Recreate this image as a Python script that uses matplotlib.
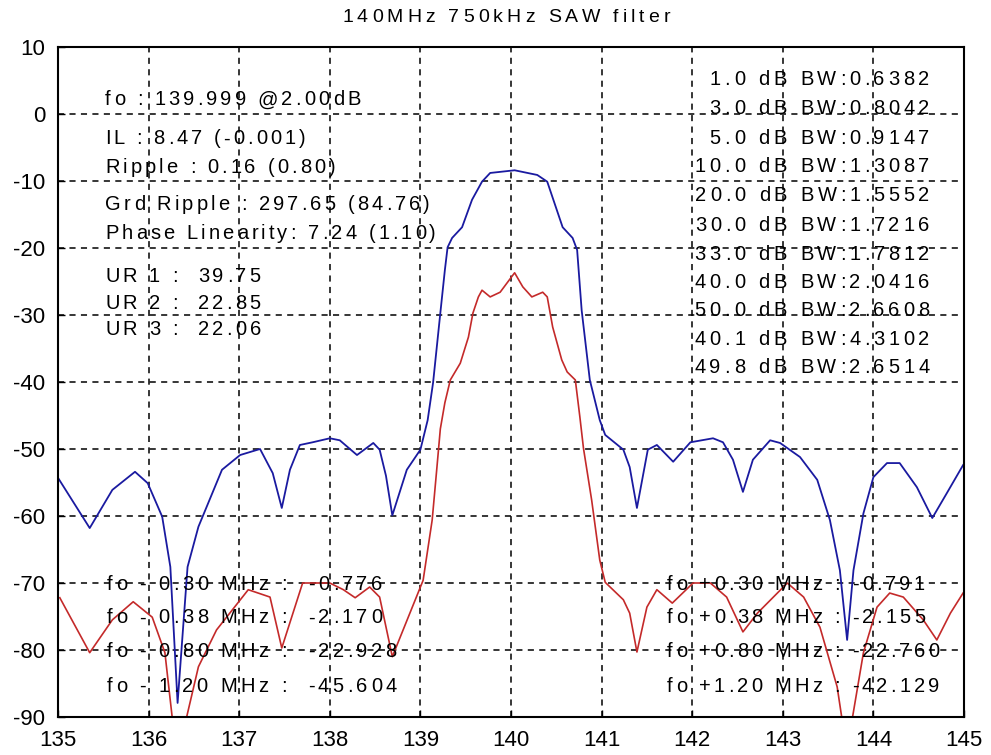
import matplotlib
matplotlib.use("Agg")
import matplotlib.pyplot as plt
from matplotlib import transforms
from matplotlib.font_manager import FontProperties

plt.rcParams['font.family'] = ['Liberation Sans', 'DejaVu Sans']
plt.rcParams['axes.unicode_minus'] = False

title = "140MHz 750kHz SAW filter"

blue_x = [135.0, 135.35, 135.6, 135.85, 135.99, 136.15, 136.24, 136.32, 136.43, 136.55, 136.81,
          137.01, 137.23, 137.37, 137.47, 137.56, 137.67, 137.81, 138.0, 138.11, 138.30, 138.48,
          138.55, 138.62, 138.69, 138.85, 139.0, 139.08, 139.14, 139.22, 139.27, 139.30, 139.35,
          139.46, 139.57, 139.68, 139.77, 140.04, 140.29, 140.40, 140.46, 140.57, 140.68, 140.73,
          140.78, 140.87, 140.98, 141.04, 141.24, 141.31, 141.39, 141.51, 141.61, 141.79, 141.98,
          142.23, 142.34, 142.45, 142.56, 142.67, 142.86, 142.97, 143.19, 143.38, 143.52, 143.63,
          143.71, 143.78, 143.89, 144.0, 144.15, 144.29, 144.48, 144.65, 144.81, 144.99]
blue_y = [-54.3, -61.8, -56.1, -53.4, -55.1, -60.1, -67.6, -87.9, -67.6, -61.6, -53.1,
          -50.9, -50.0, -53.6, -58.8, -53.1, -49.4, -49.0, -48.4, -48.7, -50.9, -49.1,
          -50.1, -54.0, -59.9, -53.1, -50.1, -45.7, -40.1, -29.7, -23.3, -19.9, -18.5,
          -16.9, -12.8, -10.1, -8.8, -8.4, -9.1, -10.1, -12.5, -16.9, -18.5, -20.3,
          -29.3, -39.7, -45.7, -47.9, -50.1, -52.7, -58.8, -50.1, -49.4, -51.9, -49.0,
          -48.4, -49.0, -51.6, -56.4, -51.6, -48.7, -49.1, -51.2, -54.6, -60.6, -68.1,
          -78.5, -68.1, -59.6, -54.2, -52.1, -52.1, -55.7, -60.3, -56.6, -52.4]

red_x = [135.02, 135.35, 135.6, 135.83, 136.04, 136.18, 136.26, 136.34, 136.42, 136.55, 136.75,
         137.1, 137.34, 137.47, 137.70, 138.0, 138.15, 138.28, 138.44, 138.55, 138.69, 139.03,
         139.13, 139.18, 139.22, 139.27, 139.33, 139.44, 139.53, 139.58, 139.64, 139.68, 139.77,
         139.88, 140.04, 140.13, 140.23, 140.35, 140.40, 140.46, 140.56, 140.62, 140.71, 140.76,
         140.80, 140.89, 140.98, 141.04, 141.24, 141.31, 141.39, 141.50, 141.61, 141.78, 142.01,
         142.20, 142.38, 142.56, 142.72, 143.05, 143.23, 143.41, 143.60, 143.65, 143.71, 143.77,
         143.89, 144.04, 144.18, 144.33, 144.55, 144.70, 144.85, 144.99]
red_y = [-72.2, -80.4, -75.5, -72.8, -75.1, -80.4, -90.0, -96.0, -90.0, -82.5, -77.0,
         -71.0, -72.1, -79.7, -70.0, -70.0, -71.0, -72.2, -70.6, -72.1, -81.0, -69.6,
         -60.6, -53.1, -47.0, -43.1, -39.7, -37.2, -33.3, -29.7, -27.3, -26.3, -27.3,
         -26.6, -23.7, -25.8, -27.3, -26.6, -27.3, -31.8, -36.7, -38.5, -39.7, -45.2,
         -49.9, -57.6, -66.6, -69.9, -72.5, -74.5, -80.3, -73.6, -71.0, -73.0, -70.0,
         -70.0, -72.1, -77.3, -74.5, -70.0, -72.1, -76.6, -85.5, -90.0, -96.0, -90.0,
         -80.4, -73.6, -71.5, -72.1, -75.5, -78.5, -74.5, -71.5]

x_ticks = [135, 136, 137, 138, 139, 140, 141, 142, 143, 144, 145]
y_ticks = [10, 0, -10, -20, -30, -40, -50, -60, -70, -80, -90]

left_info = ["fo : 139.999 @2.00dB", "IL : 8.47 (-0.001)", "Ripple : 0.16 (0.80)",
             "Grd Ripple : 297.65 (84.76)", "Phase Linearity: 7.24 (1.10)",
             "UR 1 :  39.75", "UR 2 :  22.85", "UR 3 :  22.06"]
left_info_y = [2.1, -3.7, -8.0, -13.5, -17.8, -24.2, -28.3, -32.1]

bw_info = ["1.0 dB BW:0.6382", "3.0 dB BW:0.8042", "5.0 dB BW:0.9147", "10.0 dB BW:1.3087",
           "20.0 dB BW:1.5552", "30.0 dB BW:1.7216", "33.0 dB BW:1.7812", "40.0 dB BW:2.0416",
           "50.0 dB BW:2.6608", "40.1 dB BW:4.3102", "49.8 dB BW:2.6514"]
bw_info_y = [5.1, 0.8, -3.7, -7.9, -12.1, -16.6, -20.9, -25.1, -29.4, -33.7, -37.8]

lo_info = ["fo - 0.30 MHz :  -0.776", "fo - 0.38 MHz :  -2.170",
           "fo - 0.80 MHz :  -22.928", "fo - 1.20 MHz :  -45.604"]
hi_info = ["fo +0.30 MHz : -0.791", "fo +0.38 MHz : -2.155",
           "fo +0.80 MHz : -22.760", "fo +1.20 MHz : -42.129"]
corner_info_y = [-70.2, -75.2, -80.2, -85.4]

fig = plt.figure(figsize=(9.91, 7.55), dpi=100)
ax = fig.add_axes([58/991, 1-717/755, (964-58)/991, (717-47)/755])

ax.plot(blue_x, blue_y, color='#1a1aa0', lw=1.3)
ax.plot(red_x, red_y, color='#c42a2a', lw=1.2)

ax.set_xlim(135, 145)
ax.set_ylim(-90, 10)
ax.set_xticks(x_ticks)
ax.set_yticks(y_ticks)
ax.tick_params(direction='in', length=5, width=1, labelsize=16)
ax.tick_params(axis='x', pad=9)
ax.tick_params(axis='y', pad=9)
ax.grid(True, color='black', linestyle=(0, (4, 3.5)), lw=1.1)
for s in ax.spines.values():
    s.set_linewidth(1.5)

renderer = fig.canvas.get_renderer()


def text_w(s, fp):
    w, h, d = renderer.get_text_width_height_descent(s + "x", fp, ismath=False)
    wx, _, _ = renderer.get_text_width_height_descent("x", fp, ismath=False)
    return w - wx


def spaced_text(x, y, s, fontsize, spacing, ha='left', transform=None):
    fp = FontProperties(family=['Liberation Sans', 'DejaVu Sans'], size=fontsize)
    total = text_w(s, fp) + spacing * (len(s) - 1)
    if ha == 'left':
        start = 0.0
    elif ha == 'right':
        start = -total
    else:
        start = -total / 2
    for i, ch in enumerate(s):
        if ch == ' ':
            continue
        dx = start + text_w(s[:i], fp) + spacing * i
        tr = transforms.offset_copy(transform, fig=fig, x=dx, y=0, units='dots')
        fig.text(x, y, ch, fontproperties=fp, ha='left', va='center', transform=tr)


spaced_text(506/991, 1-18/755, title, 14, 4.0, ha='center', transform=fig.transFigure)

fs = 14.5
for t, y in zip(left_info, left_info_y):
    spaced_text(135.52, y, t, fs, 3.1, 'left', ax.transData)
for t, y in zip(bw_info, bw_info_y):
    spaced_text(144.62, y, t, fs, 3.8, 'right', ax.transData)
for t, y in zip(lo_info, corner_info_y):
    spaced_text(135.54, y, t, fs, 3.4, 'left', ax.transData)
for t, y in zip(hi_info, corner_info_y):
    spaced_text(141.72, y, t, fs, 3.2, 'left', ax.transData)

fig.savefig("out.png", dpi=100)
